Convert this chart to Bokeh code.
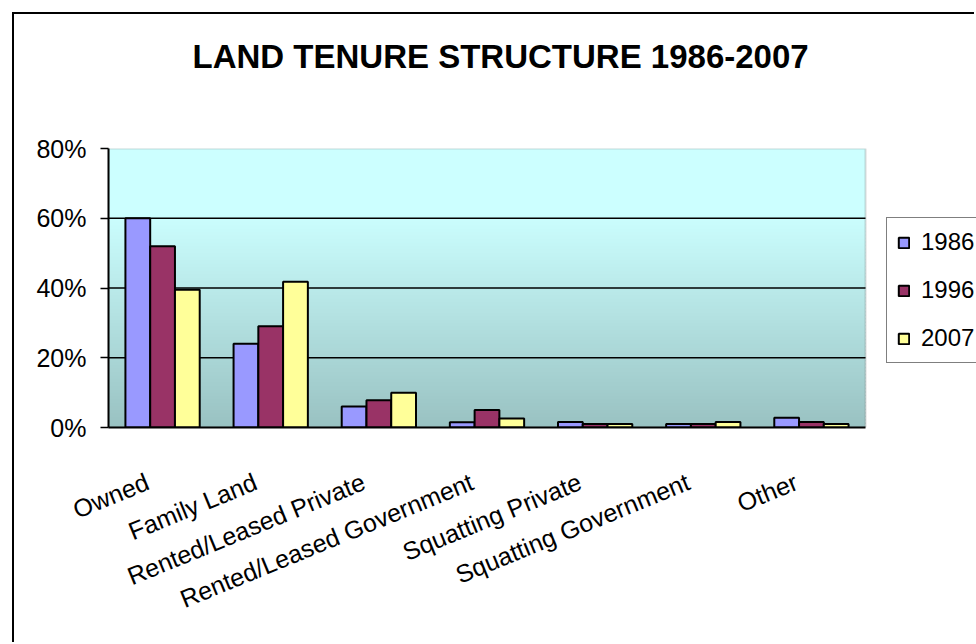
from bokeh.plotting import figure
from bokeh.models import (Range1d, FixedTicker, PrintfTickFormatter, LinearAxis, Title,
                          BoxAnnotation, Legend, LegendItem, ColumnDataSource)
from bokeh.transform import dodge
from bokeh.embed import file_html
from bokeh.resources import INLINE

# ---- data ----
categories = ["Owned", "Family Land", "Rented/Leased Private", "Rented/Leased Government",
              "Squatting Private", "Squatting Government", "Other"]
years = ["1986", "1996", "2007"]
v1986 = [60.0, 24.0, 6.0, 1.5, 1.6, 1.0, 2.8]
v1996 = [52.0, 29.0, 7.8, 5.0, 1.0, 1.0, 1.6]
v2007 = [39.5, 41.8, 10.0, 2.6, 1.0, 1.6, 1.0]
y_ticks = [0, 20, 40, 60, 80]
title_text = "LAND TENURE STRUCTURE 1986-2007"

colors = ["#9999FF", "#993366", "#FFFF99"]
FONT = "Liberation Sans"

ncat = len(categories)
xpos = [i + 0.5 for i in range(ncat)]  # category slot centres
src = ColumnDataSource(dict(x=xpos, cat=categories, y1986=v1986, y1996=v1996, y2007=v2007))
y_lo, y_hi = y_ticks[0], y_ticks[-1]

# ---- layout (pixels) ----
W, H = 962, 630
BL, BT, BB = 94, 134, 217
frame_w = W - BL            # frame runs to the canvas' right edge (room for legend)
area_w = 757                # width of the shaded plot area
x_end = ncat * frame_w / area_w

p = figure(x_range=Range1d(0, x_end), y_range=Range1d(y_lo, y_hi),
           width=W, height=H, output_backend="svg", toolbar_location=None,
           min_border_left=BL, min_border_right=0, min_border_top=BT, min_border_bottom=BB,
           title=title_text)
p.styles = {"margin-left": "12px", "margin-top": "12px",
            "border-left": "2px solid black", "border-top": "2px solid black"}
p.background_fill_color = "white"
p.border_fill_color = "white"
p.outline_line_color = None

# title (outermost) with a spacer between it and the plot area
p.title.text_font = FONT
p.title.text_font_size = "33px"
p.title.text_font_style = "bold"
p.title.text_color = "black"
p.title.align = "left"
p.title.offset = 84
p.title.standoff = 10
p.add_layout(Title(text=" ", text_font_size="1px", standoff=66), "above")

# background gradient of the plot area (styling bands)
top_c = (0xCC, 0xFF, 0xFF)
bot_c = (0x99, 0xC2, 0xC2)
grad_top = 62.0
n = 62
p.add_layout(BoxAnnotation(left=0, right=ncat, bottom=grad_top, top=y_hi,
                           fill_color="#CCFFFF", fill_alpha=1, line_color=None, level="image"))
for i in range(n):
    b = grad_top * i / n
    t = grad_top * (i + 1) / n + 0.4
    f = (i + 0.5) / n
    c = tuple(int(round(bot_c[k] + (top_c[k] - bot_c[k]) * f)) for k in range(3))
    p.add_layout(BoxAnnotation(left=0, right=ncat, bottom=b, top=min(t, y_hi),
                               fill_color="#%02x%02x%02x" % c, fill_alpha=1,
                               line_color=None, level="image"))
# plot-area border (grey top / right)
p.add_layout(BoxAnnotation(left=0, right=ncat, bottom=y_lo, top=y_hi, fill_alpha=0,
                           line_color="#808080", line_width=2, level="underlay"))

# grid lines limited to the plot area
p.xgrid.visible = False
p.ygrid.visible = False
gy = [t for t in y_ticks if y_lo < t < y_hi]
p.segment(x0=[0] * len(gy), x1=[ncat] * len(gy), y0=gy, y1=gy,
          line_color="black", line_width=1.5)

# bars
w = 0.229
keys = ["y1986", "y1996", "y2007"]
offs = [-w, 0, w]
rs = []
for k, o, c in zip(keys, offs, colors):
    r = p.vbar(x=dodge("x", o), top=k, width=w, source=src,
               fill_color=c, line_color="black", line_width=2)
    rs.append(r)

# y axis
p.yaxis.ticker = FixedTicker(ticks=y_ticks)
p.yaxis.formatter = PrintfTickFormatter(format="%d%%")
p.yaxis.minor_tick_line_color = None
p.yaxis.major_tick_out = 8
p.yaxis.major_tick_in = 0
p.yaxis.major_tick_line_color = "black"
p.yaxis.major_tick_line_width = 1.5
p.yaxis.axis_line_color = "black"
p.yaxis.axis_line_width = 2
p.yaxis.major_label_text_font = FONT
p.yaxis.major_label_text_font_size = "25px"
p.yaxis.major_label_text_color = "black"
p.yaxis.major_label_standoff = 14

# x axis: line only, over the plot area
p.xaxis.ticker = FixedTicker(ticks=[])
p.xaxis.bounds = (0, ncat)
p.xaxis.major_tick_line_color = None
p.xaxis.minor_tick_line_color = None
p.xaxis.axis_line_color = "black"
p.xaxis.axis_line_width = 2
p.xaxis.major_label_text_font_size = "0px"
p.xaxis.major_label_standoff = 0

# category label axis (slightly shifted, as in the reference)
shift = 0.14
p.extra_x_ranges = {"lab": Range1d(start=shift, end=x_end + shift)}
lab_axis = LinearAxis(x_range_name="lab",
                      ticker=FixedTicker(ticks=xpos),
                      major_label_overrides={x: c for x, c in zip(xpos, categories)},
                      axis_line_color=None, major_tick_line_color=None,
                      minor_tick_line_color=None,
                      major_label_orientation=0.39,
                      major_label_text_font=FONT, major_label_text_font_size="25px",
                      major_label_text_color="black", major_label_standoff=47)
p.add_layout(lab_axis, "below")

# legend
legend = Legend(items=[LegendItem(label=y, renderers=[r]) for y, r in zip(years, rs)],
                location=(778, 64), orientation="vertical",
                label_text_font=FONT, label_text_font_size="24px", label_text_color="black",
                glyph_width=13, glyph_height=13, label_height=28, label_standoff=11,
                spacing=20, padding=10, margin=0,
                border_line_color="black", border_line_width=1.5,
                background_fill_color="white", background_fill_alpha=1)
p.add_layout(legend, "center")

open("out.html", "w").write(file_html(p, INLINE))
